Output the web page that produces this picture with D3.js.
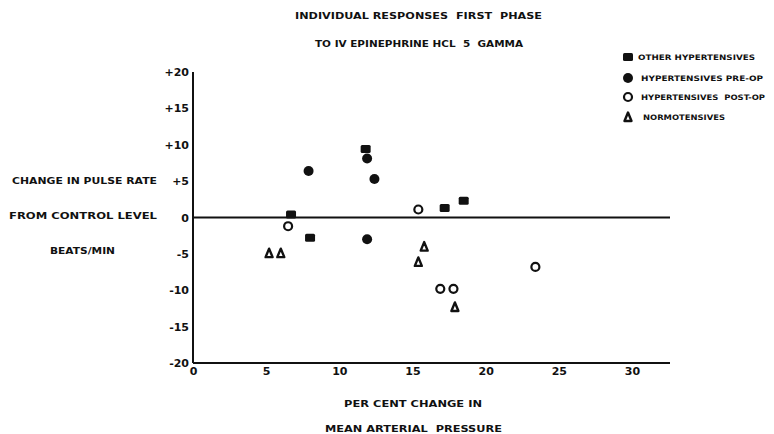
<!DOCTYPE html>
<html>
<head>
<meta charset="utf-8">
<script src="https://cdn.jsdelivr.net/npm/d3@7"></script>
<style>
  body { margin: 0; background: #fff; }
  svg text { font-family: "DejaVu Sans", sans-serif; font-weight: bold; fill: #111; white-space: pre; }
</style>
</head>
<body>
<div id="chart"></div>
<script>
// values: [per cent change in MAP, change in pulse rate]
var otherHypertensives = [[11.8, 9.4], [6.7, 0.4], [8.0, -2.8], [17.2, 1.3], [18.5, 2.3]];
var hypertensivesPreOp = [[11.9, 8.1], [7.9, 6.4], [12.4, 5.3], [11.9, -3.0]];
var hypertensivesPostOp = [[6.5, -1.2], [15.4, 1.1], [23.4, -6.8], [16.9, -9.8], [17.8, -9.8]];
var normotensives = [[5.2, -4.9], [6.0, -4.9], [15.8, -4.0], [15.4, -6.1], [17.9, -12.3]];

var xTicks = [0, 5, 10, 15, 20, 25, 30];
var yTicks = [-20, -15, -10, -5, 0, 5, 10, 15, 20];

var titleLines = ["INDIVIDUAL RESPONSES  FIRST  PHASE", "TO IV EPINEPHRINE HCL  5  GAMMA"];
var yLabelLines = ["CHANGE IN PULSE RATE", "FROM CONTROL LEVEL", "BEATS/MIN"];
var xLabelLines = ["PER CENT CHANGE IN", "MEAN ARTERIAL  PRESSURE"];
var legendNames = ["OTHER HYPERTENSIVES", "HYPERTENSIVES PRE-OP", "HYPERTENSIVES  POST-OP", "NORMOTENSIVES"];

var width = 774, height = 434;

var svg = d3.select("#chart")
    .append("svg")
      .attr("width", width)
      .attr("height", height);

var x = d3.scaleLinear().domain([0, 32.6]).range([193, 670]);
var y = d3.scaleLinear().domain([-20, 20]).range([363, 72]);

// helper for the hand lettered texts, squeezed to the width measured on the figure
function label(txt, cx, by, w, size) {
    svg.append("text")
        .attr("x", cx - w / 2)
        .attr("y", by)
        .attr("textLength", w)
        .attr("lengthAdjust", "spacingAndGlyphs")
        .style("font-size", size + "px")
        .text(txt);
}

// titles
label(titleLines[0], 418.5, 19, 247, 9.5);
label(titleLines[1], 419, 47, 208, 9);

// y title, left side
label(yLabelLines[0], 84.5, 183.5, 145, 9.5);
label(yLabelLines[1], 83, 218.5, 148, 9.5);
label(yLabelLines[2], 82.5, 253.5, 65, 9.5);

// x title
label(xLabelLines[0], 413, 407, 138, 9.5);
label(xLabelLines[1], 413.5, 432, 177, 9.5);

// axes
var yAxis = d3.axisLeft(y)
    .tickValues(yTicks)
    .tickSize(0)
    .tickPadding(4)
    .tickFormat(d => d > 0 ? "+" + d : d < 0 ? "-" + Math.abs(d) : "0");
var gy = svg.append("g")
    .attr("transform", "translate(" + x(0) + ",0)")
    .call(yAxis);

var xAxis = d3.axisBottom(x)
    .tickValues(xTicks)
    .tickSize(0)
    .tickPadding(4);
var gx = svg.append("g")
    .attr("transform", "translate(0," + y(-20) + ")")
    .call(xAxis);

svg.selectAll(".domain").attr("stroke", "#111").attr("stroke-width", 2);
svg.selectAll(".tick text")
    .style("font-family", "DejaVu Sans")
    .style("font-weight", "bold")
    .style("font-size", "11px")
    .attr("fill", "#111");
gx.select(".domain").attr("d", "M" + x(0) + ",0H" + x(32.6));
gy.select(".domain").attr("d", "M0," + y(20) + "V" + y(-20));

// zero line across the plot
svg.append("line")
    .attr("x1", x(0)).attr("x2", x(32.6))
    .attr("y1", y(0)).attr("y2", y(0))
    .attr("stroke", "#111")
    .attr("stroke-width", 2);

// marker drawing
function square(g, px, py) {
    g.append("rect")
        .attr("x", px - 5).attr("y", py - 4)
        .attr("width", 10).attr("height", 8)
        .attr("rx", 1.5)
        .attr("fill", "#111");
}
function dot(g, px, py) {
    g.append("circle")
        .attr("cx", px).attr("cy", py).attr("r", 5)
        .attr("fill", "#111");
}
function ring(g, px, py) {
    g.append("circle")
        .attr("cx", px).attr("cy", py).attr("r", 4)
        .attr("fill", "#fff")
        .attr("stroke", "#111")
        .attr("stroke-width", 2.2);
}
function tri(g, px, py) {
    g.append("path")
        .attr("d", "M" + px + "," + (py - 4.5) + "L" + (px + 3.5) + "," + (py + 4) + "L" + (px - 3.5) + "," + (py + 4) + "Z")
        .attr("fill", "#fff")
        .attr("stroke", "#111")
        .attr("stroke-width", 2.4)
        .attr("stroke-linejoin", "round");
}

var pts = svg.append("g");
var groups = [
    [otherHypertensives, square],
    [hypertensivesPreOp, dot],
    [hypertensivesPostOp, ring],
    [normotensives, tri]
];
groups.forEach(function (gr) {
    gr[0].forEach(function (d) {
        gr[1](pts, x(d[0]), y(d[1]));
    });
});

// legend, top right
var legendY = [57, 78, 97, 117];
var legendTextX = [638, 641, 641, 643];
var legendW = [117, 122, 124, 82];
var leg = svg.append("g");
legendNames.forEach(function (name, i) {
    groups[i][1](leg, 628, legendY[i]);
    leg.append("text")
        .attr("x", legendTextX[i])
        .attr("y", legendY[i] + 3)
        .attr("textLength", legendW[i])
        .attr("lengthAdjust", "spacingAndGlyphs")
        .style("font-size", "7.5px")
        .text(name);
});
</script>
</body>
</html>
